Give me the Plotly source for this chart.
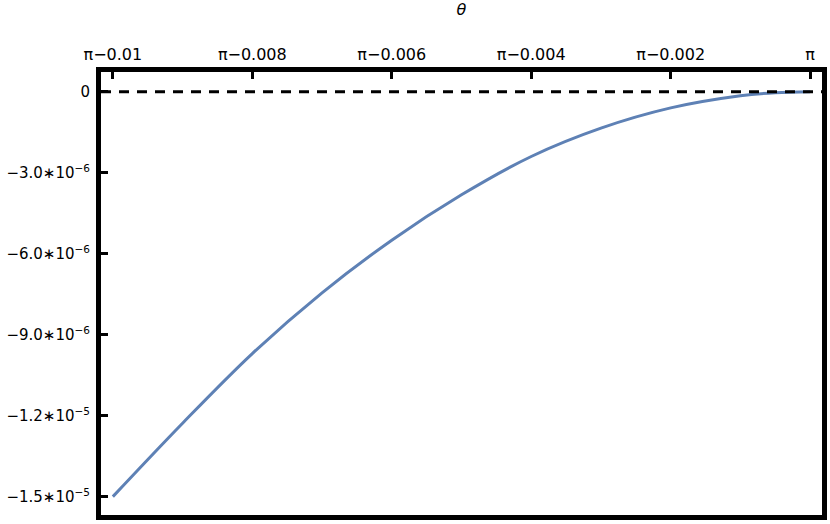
import plotly.graph_objects as go

# offsets from pi (theta - pi) and curve values
theta_offset = [-0.010, -0.009, -0.008, -0.007, -0.006, -0.005,
                -0.004, -0.003, -0.002, -0.001, -0.0005, 0.0]
values = [-1.500e-5, -1.228e-5, -9.70e-6, -7.45e-6, -5.50e-6, -3.82e-6,
          -2.40e-6, -1.35e-6, -6.0e-7, -1.5e-7, -3.5e-8, 0.0]

x_tickvals = [-0.010, -0.008, -0.006, -0.004, -0.002, 0.0]
x_ticktext = ["π−0.01", "π−0.008", "π−0.006", "π−0.004", "π−0.002", "π"]

y_tickvals = [0, -3e-6, -6e-6, -9e-6, -1.2e-5, -1.5e-5]
y_ticktext = ["0",
              "−3.0∗10<sup>−6</sup>",
              "−6.0∗10<sup>−6</sup>",
              "−9.0∗10<sup>−6</sup>",
              "−1.2∗10<sup>−5</sup>",
              "−1.5∗10<sup>−5</sup>"]

fig = go.Figure()
fig.add_trace(go.Scatter(x=theta_offset, y=values, mode="lines",
                         line=dict(color="#5E81B5", width=3, shape="spline"),
                         showlegend=False, hoverinfo="skip"))

# dashed zero line across the frame
fig.add_shape(type="line", xref="paper", yref="y", x0=0, x1=1, y0=0, y1=0,
              line=dict(color="black", width=3, dash="10px,8px"), layer="above")

axis_font = dict(family="DejaVu Sans, Verdana, sans-serif", size=15, color="black")

fig.update_layout(
    width=830, height=524,
    margin=dict(l=101, r=8, t=72, b=9),
    paper_bgcolor="white", plot_bgcolor="white",
    font=axis_font,
    xaxis=dict(side="top", range=[-0.01017, 0.00017],
               tickvals=x_tickvals, ticktext=x_ticktext,
               tickfont=dict(size=16),
               ticks="inside", ticklen=7, tickwidth=3, tickcolor="black",
               showline=True, linewidth=5, linecolor="black", mirror=True,
               showgrid=False, zeroline=False, ticklabelstandoff=1,
               automargin=False,
               title=dict(text="<i>θ</i>", font=dict(size=16), standoff=28)),
    yaxis=dict(range=[-1.568e-5, 7.3e-7],
               tickvals=y_tickvals, ticktext=y_ticktext,
               ticks="inside", ticklen=7, tickwidth=3, tickcolor="black",
               showline=True, linewidth=5, linecolor="black", mirror=True,
               showgrid=False, zeroline=False, ticklabelstandoff=3,
               automargin=False),
)

# drop the browser's default page margin so the figure sits at the corner
fig.write_html("out.html", config={"displayModeBar": False},
               post_script="document.body.style.margin = '0';")
